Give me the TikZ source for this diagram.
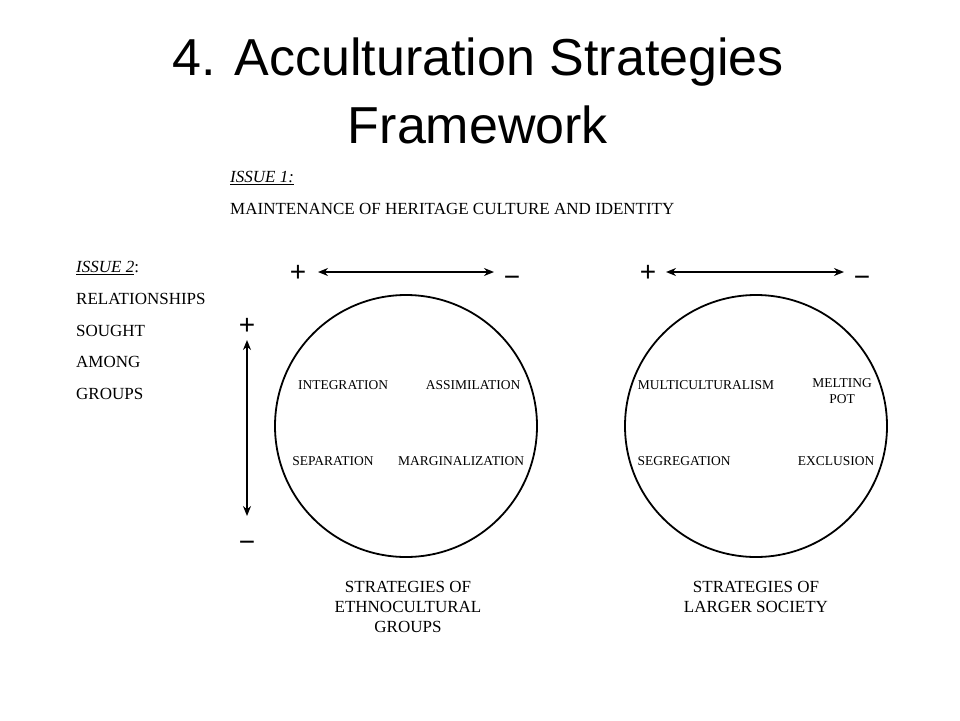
\documentclass[tikz,border=0pt]{standalone}
\usepackage{fontspec}
\setmainfont{Liberation Serif}
\newfontfamily\titlefont{Liberation Sans}
\usetikzlibrary{arrows.meta}
\begin{document}
\begin{tikzpicture}[x=1pt,y=-1pt,
  title/.style={font=\titlefont\fontsize{52}{58}\selectfont},
  lab/.style={font=\fontsize{17}{19}\selectfont,anchor=west,inner sep=0},
  inlab/.style={font=\fontsize{13.5}{16}\selectfont,inner sep=0,align=center},
  sign/.style={font=\titlefont\fontsize{28}{30}\selectfont,inner sep=0},
  circ/.style={draw,line width=1.8pt,circle,minimum size=262pt,inner sep=0},
  arr/.style={line width=1.5pt,{Stealth[length=10pt,width=8pt]}-{Stealth[length=10pt,width=8pt]}}]
\useasboundingbox (0,0) rectangle (960,720);
\node[title] (t1) at (478,62) {4. Acculturation Strategies};
\node[title] (t2) at (478,125) {Framework};
\node[lab] (i1) at (230,178) {\textit{\underline{ISSUE 1:}}};
\node[lab] (m1) at (230,209) {MAINTENANCE OF HERITAGE CULTURE AND IDENTITY};
\node[lab] (i2) at (76,268) {\textit{\underline{ISSUE 2}}:};
\node[lab] (r1) at (76,299) {RELATIONSHIPS};
\node[lab] (r2) at (76,331) {SOUGHT};
\node[lab] (r3) at (76,362) {AMONG};
\node[lab] (r4) at (76,394) {GROUPS};
\node[circ] (c1) at (406,426) {};
\node[circ] (c2) at (756,426) {};
\node[sign] (p1) at (298,273) {+};
\node[sign] (n1) at (512,281) {\textminus};
\node[sign] (p2) at (648,273) {+};
\node[sign] (n2) at (862,281) {\textminus};
\node[sign] (pv) at (247,326) {+};
\node[sign] (nv) at (247,546) {\textminus};
\coordinate (a1) at (318,272); \coordinate (b1) at (494,272);
\coordinate (a2) at (666,272); \coordinate (b2) at (844,272);
\coordinate (av) at (247,340); \coordinate (bv) at (247,516);
\draw[arr] (a1) -- (b1);
\draw[arr] (a2) -- (b2);
\draw[arr] (av) -- (bv);
\node[inlab] (l1) at (343,385) {INTEGRATION};
\node[inlab] (l2) at (473,385) {ASSIMILATION};
\node[inlab] (l3) at (333,461) {SEPARATION};
\node[inlab] (l4) at (461,461) {MARGINALIZATION};
\node[inlab] (l5) at (706,385) {MULTICULTURALISM};
\node[inlab,anchor=north] (l6) at (842,378) {MELTING\\POT};
\node[inlab] (l7) at (684,461) {SEGREGATION};
\node[inlab] (l8) at (836,461) {EXCLUSION};
\node[font=\fontsize{17}{20}\selectfont,align=center,anchor=north,inner sep=0] (s1) at (408,581) {STRATEGIES OF\\ETHNOCULTURAL\\GROUPS};
\node[font=\fontsize{17}{20}\selectfont,align=center,anchor=north,inner sep=0] (s2) at (756,581) {STRATEGIES OF\\LARGER SOCIETY};
\end{tikzpicture}
\end{document}
